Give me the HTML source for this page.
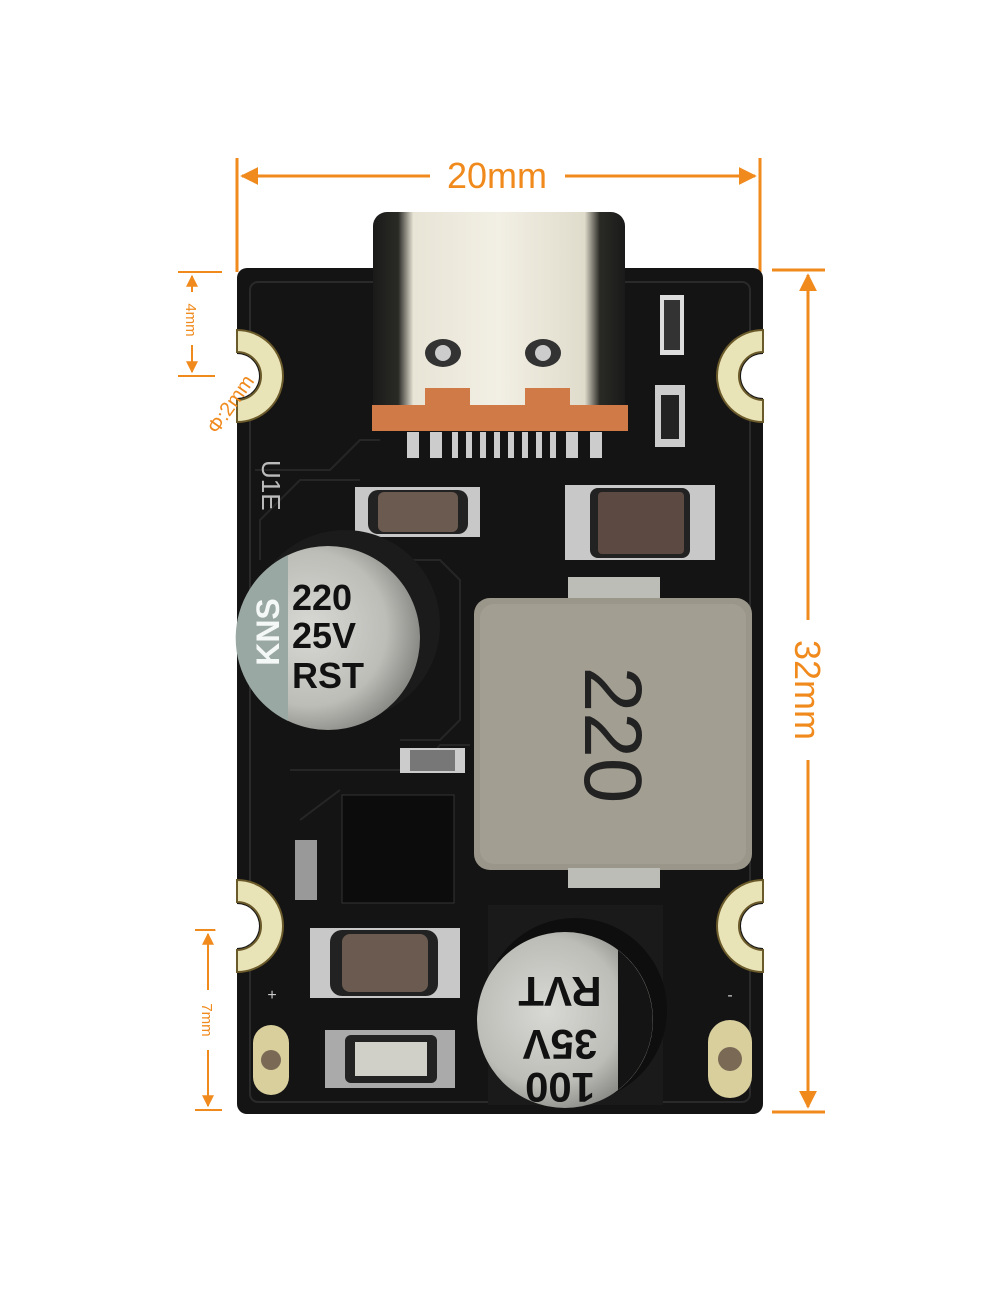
<!DOCTYPE html>
<html><head><meta charset="utf-8"><style>
html,body{margin:0;padding:0;background:#fff;}
svg{display:block;}
text{font-family:"Liberation Sans",sans-serif;}
</style></head><body>
<svg width="1000" height="1300" viewBox="0 0 1000 1300" xmlns="http://www.w3.org/2000/svg">
<defs>
<linearGradient id="usb" x1="0" x2="1" y1="0" y2="0">
<stop offset="0" stop-color="#1a1a1a"/><stop offset="0.1" stop-color="#2a2a25"/><stop offset="0.16" stop-color="#e8e4d6"/><stop offset="0.5" stop-color="#f2efe4"/><stop offset="0.84" stop-color="#e0dccc"/><stop offset="0.9" stop-color="#2a2a25"/><stop offset="1" stop-color="#1a1a1a"/>
</linearGradient>
<radialGradient id="cap" cx="0.4" cy="0.45" r="0.6">
<stop offset="0" stop-color="#d8d8d4"/><stop offset="0.7" stop-color="#bdbdb8"/><stop offset="1" stop-color="#8a8a86"/>
</radialGradient>
<marker id="ar" viewBox="0 0 10 10" refX="9" refY="5" markerWidth="6" markerHeight="6" orient="auto-start-reverse"><path d="M0,0 L10,5 L0,10 z" fill="#f08a1c"/></marker>
</defs>
<g stroke="#f08a1c" fill="none" stroke-width="3">
<line x1="237" y1="158" x2="237" y2="272"/>
<line x1="760" y1="158" x2="760" y2="272"/>
<line x1="242" y1="176" x2="430" y2="176" marker-start="url(#ar)"/>
<line x1="565" y1="176" x2="755" y2="176" marker-end="url(#ar)"/>
<line x1="772" y1="270" x2="825" y2="270"/>
<line x1="772" y1="1112" x2="825" y2="1112"/>
<line x1="808" y1="275" x2="808" y2="620" marker-start="url(#ar)"/>
<line x1="808" y1="760" x2="808" y2="1107" marker-end="url(#ar)"/>
<line x1="178" y1="272" x2="222" y2="272" stroke-width="2"/>
<line x1="178" y1="376" x2="222" y2="376" stroke-width="2"/>
<line x1="192" y1="276" x2="192" y2="292" stroke-width="2" marker-start="url(#ar)"/>
<line x1="192" y1="345" x2="192" y2="372" stroke-width="2" marker-end="url(#ar)"/>
<line x1="195" y1="930" x2="222" y2="930" stroke-width="2"/>
<line x1="195" y1="1110" x2="222" y2="1110" stroke-width="2"/>
<line x1="208" y1="934" x2="208" y2="990" stroke-width="2" marker-start="url(#ar)"/>
<line x1="208" y1="1050" x2="208" y2="1106" stroke-width="2" marker-end="url(#ar)"/>
</g>
<text x="497" y="188" font-size="36" fill="#f08a1c" text-anchor="middle">20mm</text>
<text transform="translate(795,690) rotate(90)" font-size="36" fill="#f08a1c" text-anchor="middle">32mm</text>
<text transform="translate(186,320) rotate(90)" font-size="15" fill="#f08a1c" text-anchor="middle">4mm</text>
<text transform="translate(202,1020) rotate(90)" font-size="15" fill="#f08a1c" text-anchor="middle">7mm</text>

<!-- board -->
<rect x="237" y="268" width="526" height="846" rx="10" fill="#141414"/>
<rect x="250" y="282" width="500" height="820" rx="8" fill="none" stroke="#2a2a2a" stroke-width="2"/>
<g fill="none" stroke="#262626" stroke-width="2">
<path d="M255,470 L330,470 L360,440 L380,440"/>
<path d="M260,560 L260,520 L300,480 L360,480"/>
<path d="M290,770 L420,770 L440,745 L470,745"/>
<path d="M300,820 L340,790"/>
<path d="M400,560 L440,560 L460,580 L460,720 L440,740 L400,740"/>
</g>
<!-- pads -->
<g fill="#e9e3b8" stroke="#6b5a2a" stroke-width="2">
<path d="M237,330 A46,46 0 0 1 237,422 L237,400 A24,24 0 0 0 237,352 Z"/>
<path d="M763,330 A46,46 0 0 0 763,422 L763,400 A24,24 0 0 1 763,352 Z"/>
<path d="M237,880 A46,46 0 0 1 237,972 L237,950 A24,24 0 0 0 237,902 Z"/>
<path d="M763,880 A46,46 0 0 0 763,972 L763,950 A24,24 0 0 1 763,902 Z"/>
</g>
<g fill="#fff"><circle cx="237" cy="376" r="22"/><circle cx="763" cy="376" r="22"/><circle cx="237" cy="926" r="22"/><circle cx="763" cy="926" r="22"/></g>
<text transform="translate(236,408) rotate(-55)" font-size="20" fill="#f08a1c" text-anchor="middle">Φ:2mm</text>
<rect x="253" y="1025" width="36" height="70" rx="18" fill="#d9cf9c"/><circle cx="271" cy="1060" r="10" fill="#7a6a55"/>
<rect x="708" y="1020" width="44" height="78" rx="22" fill="#d9cf9c"/><circle cx="730" cy="1059" r="12" fill="#7a6a55"/>
<text x="272" y="1000" font-size="16" fill="#ccc" text-anchor="middle">+</text>
<text x="730" y="1000" font-size="16" fill="#ccc" text-anchor="middle">-</text>
<text transform="translate(262,460) rotate(90)" font-size="26" fill="#bbb">U1E</text>

<!-- LED column right -->
<rect x="660" y="295" width="24" height="60" fill="#ddd"/><rect x="664" y="300" width="16" height="50" fill="#333"/>
<rect x="655" y="385" width="30" height="62" fill="#ccc"/><rect x="661" y="395" width="18" height="44" fill="#222"/>

<!-- USB -->
<rect x="373" y="212" width="252" height="210" rx="14" fill="url(#usb)"/>
<ellipse cx="443" cy="353" rx="18" ry="14" fill="#333"/><circle cx="443" cy="353" r="8" fill="#ccc"/>
<ellipse cx="543" cy="353" rx="18" ry="14" fill="#333"/><circle cx="543" cy="353" r="8" fill="#ccc"/>
<rect x="372" y="405" width="256" height="26" fill="#d07a48"/>
<rect x="425" y="388" width="45" height="22" fill="#d07a48"/><rect x="525" y="388" width="45" height="22" fill="#d07a48"/>
<g fill="#ccc">
<rect x="407" y="432" width="12" height="26"/><rect x="430" y="432" width="12" height="26"/><rect x="452" y="432" width="6" height="26"/><rect x="466" y="432" width="6" height="26"/><rect x="480" y="432" width="6" height="26"/><rect x="494" y="432" width="6" height="26"/><rect x="508" y="432" width="6" height="26"/><rect x="522" y="432" width="6" height="26"/><rect x="536" y="432" width="6" height="26"/><rect x="550" y="432" width="6" height="26"/><rect x="566" y="432" width="12" height="26"/><rect x="590" y="432" width="12" height="26"/>
</g>
<!-- SMD caps top -->
<rect x="355" y="487" width="125" height="50" fill="#c8c8c8"/><rect x="368" y="490" width="100" height="44" rx="10" fill="#222"/><rect x="378" y="492" width="80" height="40" rx="6" fill="#6b5a50"/>
<rect x="565" y="485" width="150" height="75" fill="#c8c8c8"/><rect x="590" y="488" width="100" height="70" rx="8" fill="#222"/><rect x="598" y="492" width="86" height="62" rx="4" fill="#5c4a42"/>
<rect x="568" y="577" width="92" height="26" fill="#bdbdb8"/>
<!-- top electrolytic -->
<circle cx="345" cy="625" r="95" fill="#1b1b1b"/>
<circle cx="328" cy="638" r="92" fill="url(#cap)"/>
<path d="M288,555 A92,92 0 0 0 288,721 Z" fill="#9aa8a4"/>
<text transform="translate(279,632) rotate(-90)" font-size="32" font-weight="bold" fill="#f4f8f6" text-anchor="middle">KNS</text>
<text x="292" y="610" font-size="36" font-weight="bold" fill="#111">220</text>
<text x="292" y="648" font-size="36" font-weight="bold" fill="#111">25V</text>
<text x="292" y="688" font-size="36" font-weight="bold" fill="#111">RST</text>
<!-- inductor -->
<rect x="474" y="598" width="278" height="272" rx="16" fill="#9b968a"/>
<rect x="480" y="604" width="266" height="260" rx="14" fill="#a39e92"/>
<text transform="translate(585,735) rotate(90)" font-size="82" fill="#222" text-anchor="middle">220</text>
<rect x="568" y="868" width="92" height="20" fill="#bdbdb8"/>
<!-- small parts -->
<rect x="400" y="748" width="65" height="25" fill="#ccc"/><rect x="410" y="750" width="45" height="21" fill="#777"/>
<rect x="342" y="795" width="112" height="108" fill="#0c0c0c" stroke="#333"/>
<rect x="295" y="840" width="22" height="60" fill="#999"/>
<!-- bottom smd -->
<rect x="310" y="928" width="150" height="70" fill="#c8c8c8"/><rect x="330" y="930" width="108" height="66" rx="12" fill="#222"/><rect x="342" y="934" width="86" height="58" rx="8" fill="#6b5a50"/>
<rect x="325" y="1030" width="130" height="58" fill="#aaa"/><rect x="345" y="1035" width="92" height="48" rx="6" fill="#222"/><rect x="355" y="1042" width="72" height="34" fill="#d0d0c8"/>
<!-- bottom electrolytic -->
<rect x="488" y="905" width="175" height="200" fill="#1a1a1a"/>
<circle cx="575" cy="1010" r="92" fill="#0e0e0e"/>
<circle cx="565" cy="1020" r="88" fill="url(#cap)"/>
<path d="M618,950 A88,88 0 0 1 618,1090 Z" fill="#141414"/>
<g font-weight="bold" font-size="42" fill="#111" text-anchor="middle">
<text transform="translate(560,977) rotate(180)">RVT</text>
<text transform="translate(560,1030) rotate(180)">35V</text>
<text transform="translate(560,1073) rotate(180)">100</text>
</g>
</svg>
</body></html>
